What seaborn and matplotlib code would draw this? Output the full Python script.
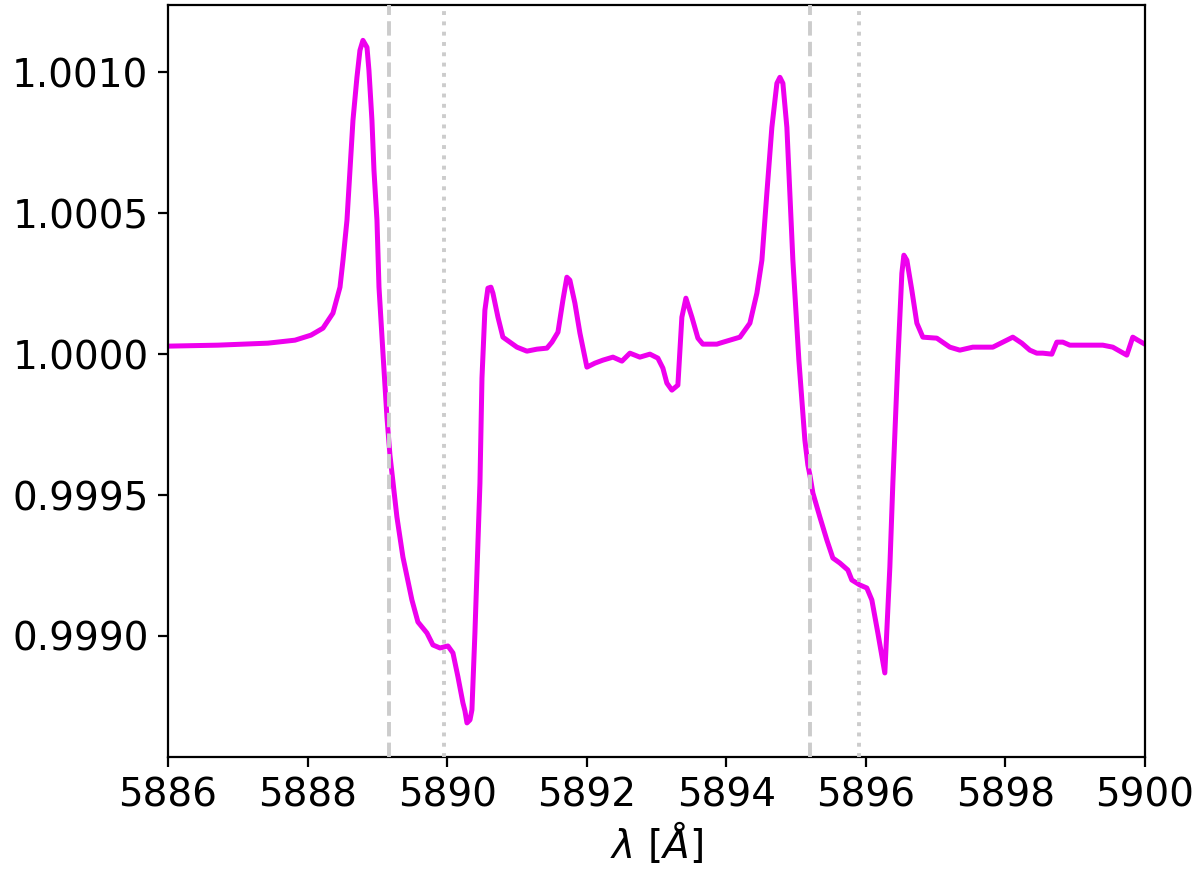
import numpy as np
import pandas as pd
import matplotlib
matplotlib.use("Agg")
import matplotlib.pyplot as plt
import seaborn as sns
from matplotlib.ticker import FormatStrFormatter

# Longitud de onda [Å] y flujo relativo
wavelength = [
    5886.000, 5886.716, 5887.433, 5887.820, 5888.049, 5888.221, 5888.364, 5888.465,
    5888.508, 5888.565, 5888.608, 5888.651, 5888.708, 5888.751, 5888.794, 5888.852,
    5888.880, 5888.923, 5888.952, 5888.995, 5889.024, 5889.081, 5889.138, 5889.181,
    5889.210, 5889.281, 5889.367, 5889.496, 5889.582, 5889.711, 5889.797, 5889.898,
    5890.012, 5890.084, 5890.156, 5890.227, 5890.256, 5890.285, 5890.328, 5890.356,
    5890.399, 5890.471, 5890.500, 5890.542, 5890.585, 5890.628, 5890.657, 5890.729,
    5890.800, 5890.901, 5891.001, 5891.144, 5891.288, 5891.431, 5891.503, 5891.589,
    5891.660, 5891.717, 5891.760, 5891.832, 5891.904, 5892.004, 5892.119, 5892.233,
    5892.377, 5892.506, 5892.620, 5892.763, 5892.907, 5893.021, 5893.093, 5893.150,
    5893.222, 5893.308, 5893.365, 5893.423, 5893.509, 5893.595, 5893.666, 5893.867,
    5893.910, 5894.197, 5894.340, 5894.440, 5894.512, 5894.583, 5894.655, 5894.727,
    5894.770, 5894.813, 5894.870, 5894.913, 5894.956, 5895.013, 5895.042, 5895.128,
    5895.171, 5895.200, 5895.243, 5895.343, 5895.443, 5895.529, 5895.629, 5895.744,
    5895.801, 5895.916, 5896.016, 5896.088, 5896.174, 5896.274, 5896.346, 5896.389,
    5896.461, 5896.518, 5896.547, 5896.590, 5896.661, 5896.733, 5896.819, 5897.019,
    5897.206, 5897.349, 5897.535, 5897.822, 5897.965, 5898.108, 5898.237, 5898.352,
    5898.452, 5898.538, 5898.667, 5898.739, 5898.825, 5898.925, 5899.111, 5899.398,
    5899.541, 5899.642, 5899.742, 5899.828, 5899.900, 5900.000,
]
flux = [
    1.0000284, 1.0000319, 1.0000390, 1.0000496, 1.0000674, 1.0000922, 1.0001454, 1.0002376,
    1.0003333, 1.0004752, 1.0006525, 1.0008298, 1.0009823, 1.0010780, 1.0011135, 1.0010887,
    1.0010071, 1.0008298, 1.0006525, 1.0004752, 1.0002376, 1.0000035, 0.9997766, 0.9996418,
    0.9995780, 0.9994220, 0.9992801, 0.9991277, 0.9990496, 0.9990106, 0.9989681, 0.9989574,
    0.9989645, 0.9989397, 0.9988546, 0.9987624, 0.9987341, 0.9986915, 0.9987022, 0.9987376,
    0.9990106, 0.9995426, 0.9999149, 1.0001560, 1.0002340, 1.0002376, 1.0002163, 1.0001312,
    1.0000603, 1.0000426, 1.0000248, 1.0000106, 1.0000177, 1.0000213, 1.0000426, 1.0000780,
    1.0001915, 1.0002730, 1.0002624, 1.0001809, 1.0000745, 0.9999539, 0.9999681, 0.9999787,
    0.9999894, 0.9999752, 1.0000035, 0.9999894, 1.0000000, 0.9999858, 0.9999504, 0.9998972,
    0.9998723, 0.9998901, 1.0001312, 1.0001986, 1.0001312, 1.0000567, 1.0000355, 1.0000355,
    1.0000390, 1.0000603, 1.0001099, 1.0002163, 1.0003333, 1.0005709, 1.0008050, 1.0009610,
    1.0009823, 1.0009610, 1.0008050, 1.0005709, 1.0003333, 1.0000957, 0.9999787, 0.9996950,
    0.9996064, 0.9995709, 0.9995071, 0.9994220, 0.9993404, 0.9992766, 0.9992589, 0.9992340,
    0.9991986, 0.9991809, 0.9991702, 0.9991277, 0.9990106, 0.9988688, 0.9992447, 0.9995426,
    0.9999787, 1.0002872, 1.0003511, 1.0003333, 1.0002270, 1.0001099, 1.0000603, 1.0000567,
    1.0000248, 1.0000142, 1.0000248, 1.0000248, 1.0000426, 1.0000603, 1.0000390, 1.0000142,
    1.0000035, 1.0000035, 1.0000000, 1.0000426, 1.0000426, 1.0000319, 1.0000319, 1.0000319,
    1.0000248, 1.0000106, 0.9999965, 1.0000603, 1.0000496, 1.0000355,
]

# Líneas de referencia (Na D) y posiciones desplazadas
shifted_lines = [5889.17, 5895.20]
rest_lines = [5889.95, 5895.91]

x_ticks = [5886, 5888, 5890, 5892, 5894, 5896, 5898, 5900]
y_ticks = [0.9990, 0.9995, 1.0000, 1.0005, 1.0010]

df = pd.DataFrame({"wavelength": wavelength, "flux": flux})

sns.set_style("ticks")
plt.rcParams["font.family"] = ["DejaVu Sans"]
plt.rcParams["font.size"] = 14
for key in ["text.color", "axes.labelcolor", "xtick.color", "ytick.color", "axes.edgecolor"]:
    plt.rcParams[key] = "black"

fig, ax = plt.subplots(figsize=(6, 4.38), dpi=200)
fig.subplots_adjust(left=0.14, right=0.954, top=0.994, bottom=0.136)

sns.lineplot(data=df, x="wavelength", y="flux", color="#ee00ee",
             linewidth=1.8, sort=False, estimator=None, ax=ax, zorder=2)

for w in shifted_lines:
    ax.axvline(w, color="0.8", linestyle="--", linewidth=1.4, zorder=3)
for w in rest_lines:
    ax.axvline(w, color="0.8", linestyle=":", linewidth=1.4, zorder=3)

ax.set_xlim(5886, 5900)
ax.set_ylim(0.998571, 1.001238)
ax.set_xticks(x_ticks)
ax.set_yticks(y_ticks)
ax.yaxis.set_major_formatter(FormatStrFormatter("%.4f"))
ax.tick_params(labelsize=14, colors="black")
ax.set_xlabel(r"$\lambda\ [\AA]$", fontsize=14, labelpad=2)
ax.set_ylabel("")

for s in ax.spines.values():
    s.set_color("black")
    s.set_visible(True)

fig.savefig("out.png", dpi=200)
